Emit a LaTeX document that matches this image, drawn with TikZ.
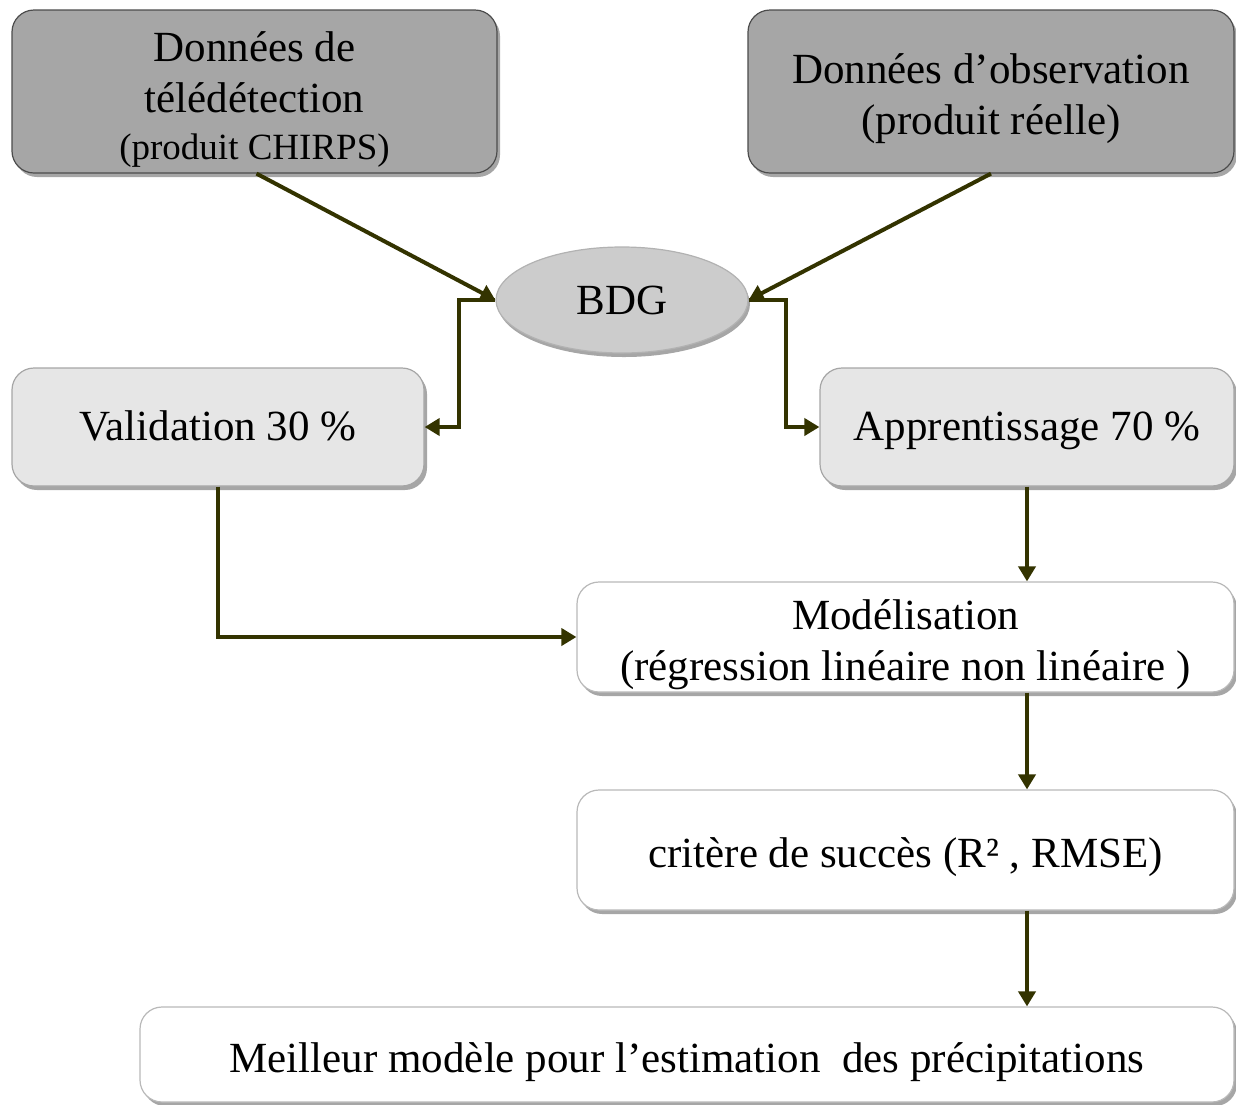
\documentclass[tikz,border=0pt]{standalone}
\usepackage{fontspec}
\setmainfont{Liberation Serif}
\usetikzlibrary{shapes.geometric,arrows.meta,shadows}
\definecolor{arrowcol}{HTML}{333300}
\definecolor{darkbox}{HTML}{A6A6A6}
\definecolor{ellbox}{HTML}{CCCCCC}
\definecolor{lightbox}{HTML}{E6E6E6}
\newcommand\tpad{\rule{0pt}{45pt}}
\newcommand\spad{\rule[-9.5pt]{0pt}{46pt}}
\tikzset{
  base/.style={rounded corners=22pt, draw=gray!70, line width=1.2pt, align=center,
    inner sep=0pt, font=\fontsize{43}{51}\selectfont,
    drop shadow={shadow xshift=3pt, shadow yshift=-4pt, opacity=0.35, fill=black}},
  darkbx/.style={base, fill=darkbox, draw=gray!60!black},
  lightbx/.style={base, fill=lightbox},
  whitebx/.style={base, fill=white, draw=gray!55},
  ellbx/.style={ellipse, fill=ellbox, draw=gray!60, line width=1.2pt, inner sep=0pt,
    font=\fontsize{43}{51}\selectfont,
    drop shadow={shadow xshift=2pt, shadow yshift=-4pt, opacity=0.35, fill=black}},
  arr/.style={draw=arrowcol, line width=4pt, -{Triangle[length=15pt,width=17pt]}, arrowcol}
}
\begin{document}
\begin{tikzpicture}[x=1pt,y=-1pt]
\useasboundingbox (0,0) rectangle (1236,1104);
\node[darkbx, minimum width=485pt, minimum height=163pt] (b1) at (254.5,91.5)
  {\tpad Données de\\télédétection\\[-4pt]{\fontsize{37}{48}\selectfont (produit CHIRPS)}};
\node[darkbx, minimum width=486pt, minimum height=163pt] (b2) at (991,91.5)
  {\tpad Données d’observation\\(produit réelle)};
\node[ellbx, minimum width=252pt, minimum height=106pt] (bdg) at (622,300) {BDG};
\node[lightbx, minimum width=412pt, minimum height=118pt] (val) at (218,427) {\spad Validation 30 \%};
\node[lightbx, minimum width=414pt, minimum height=118pt] (app) at (1027,427) {\spad Apprentissage 70 \%};
\node[whitebx, minimum width=657pt, minimum height=110pt] (mod) at (905.5,637)
  {\tpad Modélisation\\(régression linéaire non linéaire )};
\node[whitebx, minimum width=657pt, minimum height=120pt] (crit) at (905.5,850)
  {\tpad critère de succès (R² , RMSE)};
\node[whitebx, minimum width=1094pt, minimum height=95pt] (best) at (687,1054.5)
  {\tpad Meilleur modèle pour l’estimation \ des précipitations};
\draw[arr] ([xshift=2pt]b1.south) -- (bdg.west);
\draw[arr] (b2.south) -- (bdg.east);
\draw[arr] (bdg.west) -- ++(-36,0) |- (val.east);
\draw[arr] (bdg.east) -- ++(37,0) |- (app.west);
\draw[arr] (app.south) -- (app.south |- mod.north);
\draw[arr] (val.south) |- (mod.west);
\draw[arr] (app.south |- mod.south) -- (app.south |- crit.north);
\draw[arr] (app.south |- crit.south) -- (app.south |- best.north);
\end{tikzpicture}
\end{document}
